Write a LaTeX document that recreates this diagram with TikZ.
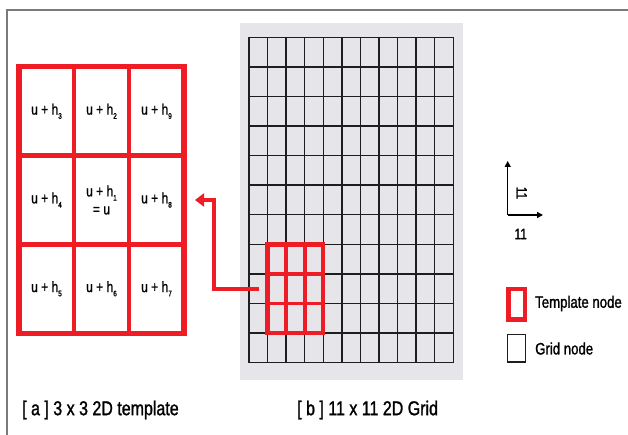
\documentclass[tikz,border=0pt]{standalone}
\usepackage{fontspec}
\setmainfont{Liberation Sans}[FakeStretch=0.8, FakeBold=1.3]
\usetikzlibrary{arrows.meta,calc}
\definecolor{tplred}{HTML}{EE1C25}
\definecolor{panelgray}{HTML}{E6E6EA}
\definecolor{framegray}{HTML}{7A7A7A}
\definecolor{gridline}{HTML}{1E1E1E}

\newcommand{\lowsub}[1]{\raisebox{-0.28em}{\fontsize{8}{9}\selectfont #1}}

\tikzset{
  redline/.style={draw=tplred, line width=#1, line join=miter},
  gridstroke/.style={draw=gridline, line width=1.4},
  celltext/.style={font=\fontsize{15}{17}\selectfont, align=center, inner sep=0},
  legendtext/.style={font=\fontsize{16.5}{19}\selectfont, anchor=west, inner sep=0},
  captiontext/.style={font=\fontsize{20}{22}\selectfont, anchor=west, inner sep=0},
  axistext/.style={font=\fontsize{15}{17}\selectfont, inner sep=0},
  linkarrow/.style={draw=tplred, line width=4.2, line join=miter,
    -{Triangle[length=9pt,width=13pt]}},
  axisarrow/.style={draw=black, line width=1.3, -{Triangle[length=6pt,width=6pt]}}
}

\begin{document}
\begin{tikzpicture}[x=1pt,y=-1pt]
\useasboundingbox (0,0) rectangle (628,435);

% outer frame (top and left edges)
\draw[framegray, line width=1.4] (7,435) -- (7,10) -- (628,10);

% grey panel behind the 11 x 11 grid
\node[fill=panelgray, inner sep=0, minimum width=222.7pt, minimum height=356.6pt,
      anchor=north west] (panel) at (240,22.7) {};

% 11 x 11 grid of nodes
\begin{scope}[shift={(249,37.3)}, x=18.573pt, y=-29.58pt]
  \node[inner sep=0, minimum width=204.3pt, minimum height=325.4pt, anchor=north west] (grid) at (0,0) {};
  \foreach \i in {0,...,11} {
    \draw[gridstroke] (\i,0) -- (\i,11);
    \draw[gridstroke] (0,\i) -- (11,\i);
  }
  % 3 x 3 template placed on the grid
  \draw[redline=3.8] (2,7) -- (2,10) (3,7) -- (3,10) (1,8) -- (4,8) (1,9) -- (4,9);
  \draw[redline=4.4] (1,7) rectangle (4,10);
  \coordinate (arrS) at (0.55,8.5);
\end{scope}

% enlarged 3 x 3 template
\begin{scope}[shift={(19,66.9)}, x=55pt, y=-88.74pt]
  \draw[redline=4.4] (1,0) -- (1,3) (2,0) -- (2,3) (0,1) -- (3,1) (0,2) -- (3,2);
  \draw[redline=5.2] (0,0) rectangle (3,3);
  \node[celltext] (t11) at (0.5,0.5) {u + h\lowsub{3}};
  \node[celltext] (t12) at (1.5,0.5) {u + h\lowsub{2}};
  \node[celltext] (t13) at (2.5,0.5) {u + h\lowsub{9}};
  \node[celltext] (t21) at (0.5,1.5) {u + h\lowsub{4}};
  \node[celltext] (t22) at (1.5,1.5) {u + h\lowsub{1}\\[1pt]= u};
  \node[celltext] (t23) at (2.5,1.5) {u + h\lowsub{8}};
  \node[celltext] (t31) at (0.5,2.5) {u + h\lowsub{5}};
  \node[celltext] (t32) at (1.5,2.5) {u + h\lowsub{6}};
  \node[celltext] (t33) at (2.5,2.5) {u + h\lowsub{7}};
\end{scope}

% link from the template on the grid to the enlarged template
\coordinate (bend) at (213.7,200);
\coordinate (arrE) at (195,200);
\draw[linkarrow] (arrS) -- (arrS -| bend) -- (bend) -- (arrE);

% axis directions
\coordinate (ax0) at (507.7,215);
\coordinate (axY) at (507.7,161);
\coordinate (axX) at (543,215);
\draw[axisarrow] (ax0) -- (axY);
\draw[axisarrow] (ax0) -- (axX);
\node[axistext, rotate=-90] (axlblY) at (521.7,193) {11};
\node[axistext] (axlblX) at (520.7,234) {11};

% legend
\node[draw=tplred, line width=4.6, inner sep=0, minimum width=16.6pt, minimum height=30.2pt] (legT) at (516.7,304.2) {};
\node[legendtext] (legTtxt) at (535,303.5) {Template node};
\node[draw=gridline, line width=1.3, inner sep=0, minimum width=17.8pt, minimum height=27.6pt] (legG) at (516.5,348.3) {};
\node[legendtext] (legGtxt) at (535,348.5) {Grid node};

% captions
\node[captiontext] (capA) at (22,410) {[ a ] 3 x 3 2D template};
\node[captiontext] (capB) at (297,410) {[ b ] 11 x 11 2D Grid};
\end{tikzpicture}
\end{document}
